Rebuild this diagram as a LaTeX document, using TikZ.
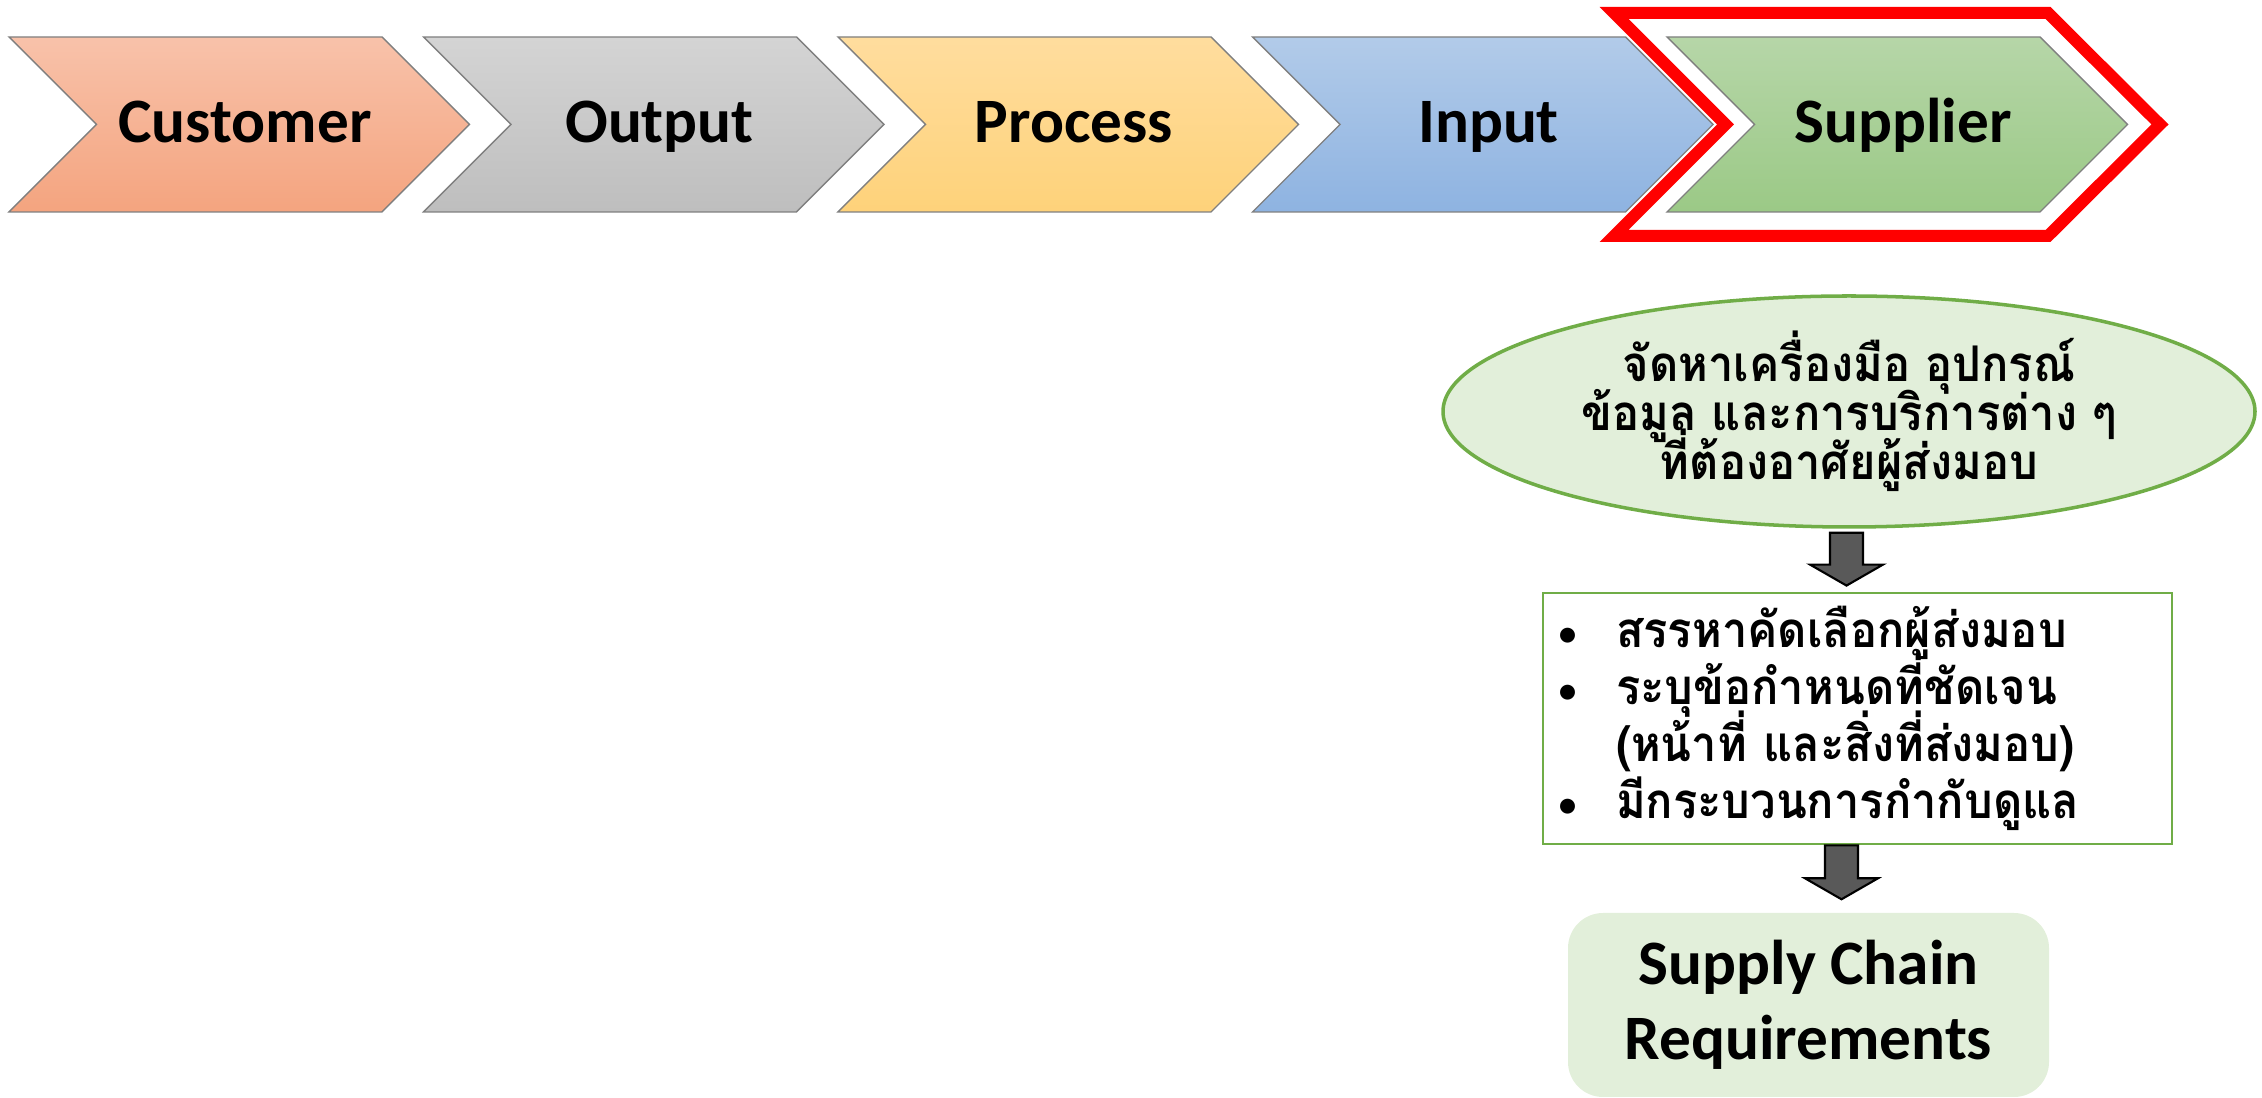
\documentclass[tikz,border=0pt]{standalone}
\usepackage{fontspec}
\setmainfont{Carlito}
\newfontfamily\thaifont[Script=Thai, FakeStretch=0.92]{Loma}
\usepackage{tikz}
\usetikzlibrary{calc}
\usetikzlibrary{shapes.geometric}

\definecolor{custtop}{HTML}{F8C2AA}
\definecolor{custbot}{HTML}{F4A47F}
\definecolor{outtop}{HTML}{D4D4D4}
\definecolor{outbot}{HTML}{BEBEBE}
\definecolor{proctop}{HTML}{FFDD9E}
\definecolor{procbot}{HTML}{FED27A}
\definecolor{intop}{HTML}{B2CBE9}
\definecolor{inbot}{HTML}{8EB3E1}
\definecolor{suptop}{HTML}{B6D6A8}
\definecolor{supbot}{HTML}{9BC986}
\definecolor{chevgray}{HTML}{7F7F7F}
\definecolor{leafgreen}{HTML}{70AD47}
\definecolor{palegreen}{HTML}{E2EFDA}
\definecolor{arrgray}{HTML}{595959}

\newcommand{\blockdown}[2]{%
    \draw[blockarr] let \p1 = (#1), \p2 = (#2) in
    (\x1-0.165cm,\y1) -- (\x1+0.165cm,\y1) -- (\x1+0.165cm,\y2+0.21cm)
    -- (\x1+0.365cm,\y2+0.21cm) -- (\x1,\y2) -- (\x1-0.365cm,\y2+0.21cm)
    -- (\x1-0.165cm,\y2+0.21cm) -- cycle;}
\newcommand{\thaibullet}{\makebox[0.59cm][l]{\normalfont\fontsize{12}{12}\selectfont\textbullet}}
\newcommand{\tightlines}{\setlength{\lineskiplimit}{-20pt}\setlength{\lineskip}{0pt}}

\begin{document}
\begin{tikzpicture}[
    chevron/.style = {draw=chevgray, line width=0.4pt},
    chevlabel/.style = {anchor=base, font=\fontsize{18}{21}\selectfont\bfseries},
    needell/.style = {ellipse, draw=leafgreen, fill=palegreen, line width=1pt,
        minimum width=8.12cm, minimum height=2.31cm, inner xsep=0pt, inner ysep=-0.15cm,
        align=center,
        font=\thaifont\bfseries\fontsize{14}{13.9}\selectfont\tightlines},
    listbox/.style = {draw=leafgreen, line width=0.8pt, fill=white,
        text width=6.01cm, inner xsep=0.14cm, minimum height=2.51cm, align=left,
        font=\thaifont\bfseries\fontsize{14}{16.2}\selectfont\tightlines},
    reqbox/.style = {fill=palegreen, rounded corners=0.35cm, minimum width=4.81cm,
        minimum height=1.84cm, align=center, font=\fontsize{18}{21.3}\selectfont\bfseries},
    blockarr/.style = {fill=arrgray, draw=black, line width=0.6pt, line join=miter}
]
    \useasboundingbox (0,0) rectangle (22.62,-10.98);
    \foreach \i/\nm/\txt/\ct/\cb in {0/cust/Customer/custtop/custbot,
        1/outp/Output/outtop/outbot, 2/proc/Process/proctop/procbot,
        3/inp/Input/intop/inbot, 4/supp/Supplier/suptop/supbot}
    {
        \pgfmathsetmacro{\L}{0.09+4.145*\i}
        \shadedraw[chevron, top color=\ct, bottom color=\cb] (\L,-0.37) -- ++(3.73,0)
            -- ++(0.875,-0.875) -- ++(-0.875,-0.875) -- ++(-3.73,0) -- ++(0.875,0.875) -- cycle;
        \node[chevlabel] (\nm) at (\L+2.36,-1.43) {\txt};
    }
    \draw[red, line width=0.12cm] (16.14,-0.13) -- (20.48,-0.13) -- (21.60,-1.245)
        -- (20.48,-2.36) -- (16.14,-2.36) -- (17.255,-1.245) -- cycle;

    \node[needell] (need) at (18.49,-4.115) {จัดหาเครื่องมือ อุปกรณ์\\ข้อมูล และการบริการต่าง ๆ\\ที่ต้องอาศัยผู้ส่งมอบ};
    \node[listbox] (sel) at (18.575,-7.185) {%
        \thaibullet สรรหาคัดเลือกผู้ส่งมอบ\\
        \thaibullet ระบุข้อกำหนดที่ชัดเจน\\
        \hspace*{0.59cm}(หน้าที่ และสิ่งที่ส่งมอบ)\\
        \thaibullet มีกระบวนการกำกับดูแล};
    \node[reqbox] (req) at (18.085,-10.05) {Supply Chain\\Requirements};

    \blockdown{$(need.south)+(-0.025,-0.04)$}{$(sel.north)+(0,0.06)$}
    \blockdown{$(sel.south)+(-0.16,0)$}{$(req.north)+(0,0.13)$}
\end{tikzpicture}
\end{document}
